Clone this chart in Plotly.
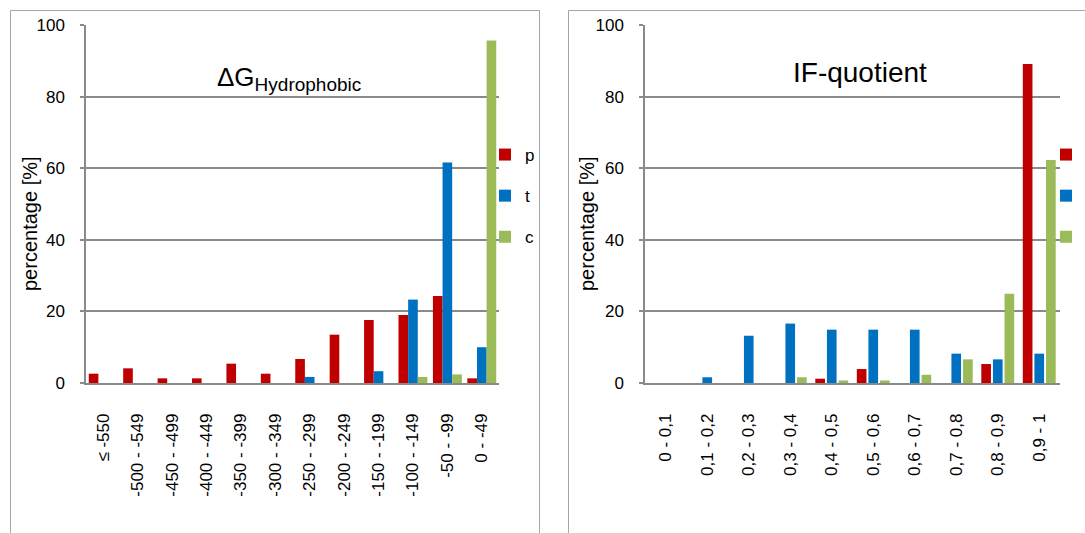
import plotly.graph_objects as go

# ---------------- data ----------------
cats_dg = ["≤ -550", "-500 - -549", "-450 - -499", "-400 - -449", "-350 - -399",
           "-300 - -349", "-250 - -299", "-200 - -249", "-150 - -199",
           "-100 - -149", "-50 - -99", "0 - -49"]
dg_p = [2.6, 4.1, 1.3, 1.3, 5.4, 2.6, 6.7, 13.5, 17.6, 19.0, 24.3, 1.3]
dg_t = [0, 0, 0, 0, 0, 0, 1.7, 0, 3.3, 23.3, 61.6, 10.0]
dg_c = [0, 0, 0, 0, 0, 0, 0, 0, 0, 1.7, 2.4, 95.7]

cats_if = ["0 - 0,1", "0,1 - 0,2", "0,2 - 0,3", "0,3 - 0,4", "0,4 - 0,5",
           "0,5 - 0,6", "0,6 - 0,7", "0,7 - 0,8", "0,8 - 0,9", "0,9 - 1"]
if_p = [0, 0, 0, 0, 1.2, 3.9, 0, 0, 5.3, 89.1]
if_t = [0, 1.6, 13.2, 16.6, 14.9, 14.9, 14.9, 8.2, 6.6, 8.2]
if_c = [0, 0, 0, 1.6, 0.7, 0.7, 2.3, 6.6, 24.9, 62.3]

series_names = ["p", "t", "c"]
colors = ["#C00000", "#0070C0", "#9BBB59"]

W, H = 1085, 533
FONT = "Liberation Sans, Arial, sans-serif"
GRID = "#8a8a8a"

def px(x):
    return x / W

def py(y):
    return 1 - y / H

fig = go.Figure()

for name, vals, col in zip(series_names, [dg_p, dg_t, dg_c], colors):
    fig.add_trace(go.Bar(x=cats_dg, y=vals, name=name, marker=dict(color=col, line=dict(width=0)),
                         xaxis="x", yaxis="y", legend="legend", legendgroup="a" + name))
for name, vals, col in zip(series_names, [if_p, if_t, if_c], colors):
    fig.add_trace(go.Bar(x=cats_if, y=vals, name=name, marker=dict(color=col, line=dict(width=0)),
                         xaxis="x2", yaxis="y2", legend="legend2", legendgroup="b" + name,
                         width=0.233))

ydom = [py(383), py(25)]
xaxis_common = dict(type="category", showgrid=False, showline=True, linecolor=GRID, linewidth=1.5,
                    ticks="", tickangle=-90, tickfont=dict(family=FONT, size=17, color="#000"),
                    ticklabelstandoff=22, zeroline=False, fixedrange=True, automargin=False)
yaxis_common = dict(range=[0, 100], tickvals=[0, 20, 40, 60, 80, 100], showgrid=True,
                    gridcolor=GRID, gridwidth=1.5, showline=True, linecolor=GRID, linewidth=1.5,
                    ticks="outside", ticklen=4, tickcolor=GRID, tickwidth=1.5,
                    tickfont=dict(family=FONT, size=17, color="#000"), ticklabelstandoff=12,
                    zeroline=False, fixedrange=True, automargin=False)

legend_common = dict(font=dict(family=FONT, size=17, color="#000"), bgcolor="rgba(0,0,0,0)",
                     tracegroupgap=16, xanchor="left", yanchor="top", itemclick=False)

fig.update_layout(
    width=W, height=H,
    margin=dict(l=0, r=0, t=0, b=0, pad=0, autoexpand=False),
    paper_bgcolor="white", plot_bgcolor="white",
    barmode="group",
    bargap=0.16,
    font=dict(family=FONT, color="#000"),
    xaxis=dict(domain=[px(86), px(499)], anchor="y", **xaxis_common),
    yaxis=dict(domain=ydom, anchor="x", **yaxis_common),
    xaxis2=dict(domain=[px(645), px(1060)], anchor="y2", **xaxis_common),
    yaxis2=dict(domain=ydom, anchor="x2", **yaxis_common),
    legend=dict(x=px(485), y=py(137), **legend_common),
    legend2=dict(x=px(1046), y=py(137), **legend_common),
    showlegend=True,
)

shapes = [
    dict(type="rect", xref="paper", yref="paper", x0=px(10.5), x1=px(539.5), y0=-0.2, y1=py(10.5),
         line=dict(color="#a6a6a6", width=1), fillcolor="rgba(0,0,0,0)", layer="below"),
    dict(type="rect", xref="paper", yref="paper", x0=px(568.5), x1=1.2, y0=-0.2, y1=py(10.5),
         line=dict(color="#a6a6a6", width=1), fillcolor="rgba(0,0,0,0)", layer="below"),
]
fig.update_layout(shapes=shapes)

annotations = [
    dict(text="ΔG<sub><span style='font-size:19px'>Hydrophobic</span></sub>", x=px(289), y=py(78),
         xref="paper", yref="paper", showarrow=False, xanchor="center", yanchor="middle",
         font=dict(family=FONT, size=26, color="#000")),
    dict(text="IF-quotient", x=px(860), y=py(73), xref="paper", yref="paper", showarrow=False,
         xanchor="center", yanchor="middle", font=dict(family=FONT, size=28, color="#000")),
    dict(text="percentage [%]", x=px(30), y=py(224), xref="paper", yref="paper", showarrow=False,
         textangle=-90, xanchor="center", yanchor="middle", font=dict(family=FONT, size=20, color="#000")),
    dict(text="percentage [%]", x=px(587), y=py(224), xref="paper", yref="paper", showarrow=False,
         textangle=-90, xanchor="center", yanchor="middle", font=dict(family=FONT, size=20, color="#000")),
]
fig.update_layout(annotations=annotations)

fig.write_html("out.html", config={"displayModeBar": False},
               post_script="document.body.style.margin='0';document.body.style.overflow='hidden';")
